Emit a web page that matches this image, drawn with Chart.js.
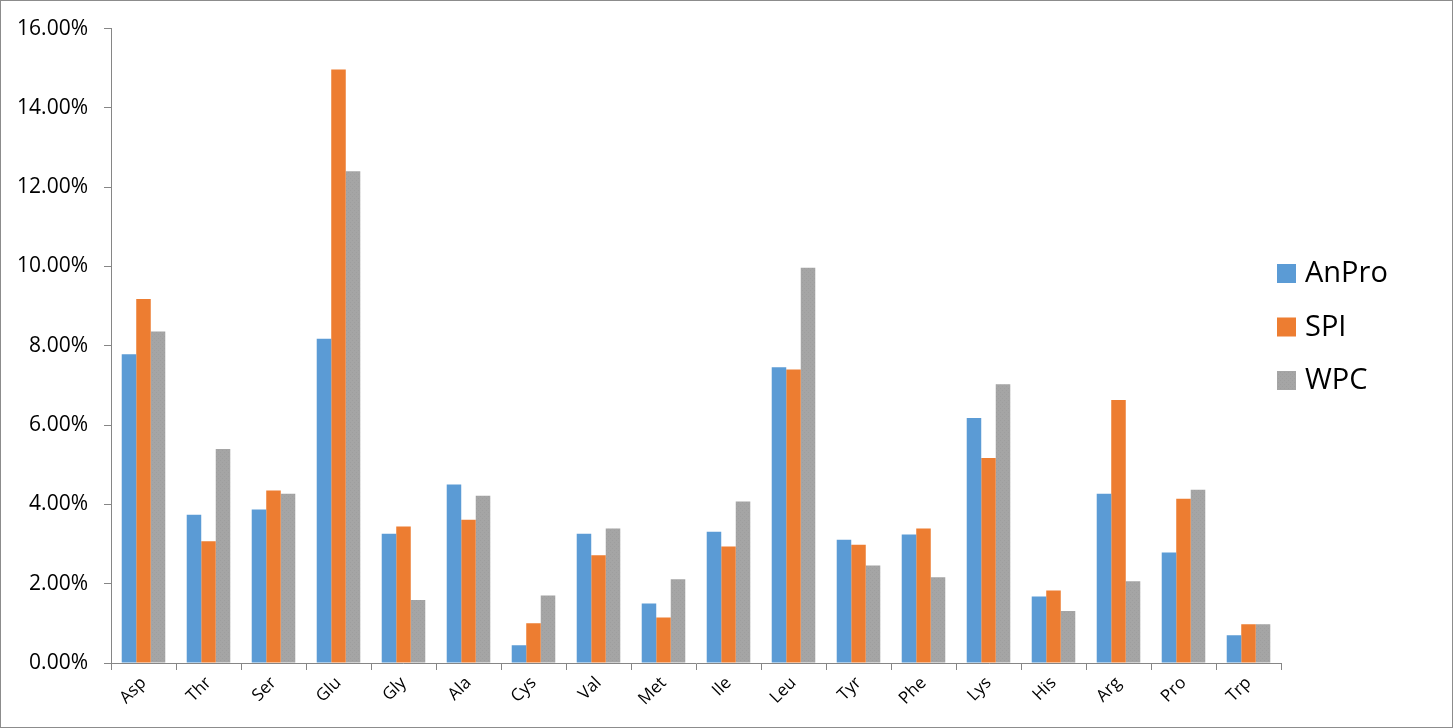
<!DOCTYPE html>
<html>
<head>
<meta charset="utf-8">
<script src="https://cdn.jsdelivr.net/npm/chart.js@4.4.1/dist/chart.umd.min.js"></script>
<style>
  html, body { margin: 0; padding: 0; background: #fff; }
  #wrap { width: 1453px; height: 728px; position: relative; }
</style>
</head>
<body>
<div id="wrap"><canvas id="aminoChart" width="1453" height="728"></canvas></div>
<script>
// Amino acid composition (fraction of total)
const aminoAcids = ['Asp', 'Thr', 'Ser', 'Glu', 'Gly', 'Ala', 'Cys', 'Val', 'Met',
                    'Ile', 'Leu', 'Tyr', 'Phe', 'Lys', 'His', 'Arg', 'Pro', 'Trp'];

const anProValues = [0.0779, 0.0374, 0.0387, 0.0818, 0.0326, 0.0450, 0.0045, 0.0326, 0.0150,
                     0.0331, 0.0746, 0.0311, 0.0324, 0.0618, 0.0168, 0.0427, 0.0279, 0.0070];
const spiValues   = [0.0918, 0.0307, 0.0435, 0.1497, 0.0344, 0.0361, 0.0100, 0.0272, 0.0115,
                     0.0294, 0.0740, 0.0298, 0.0339, 0.0517, 0.0183, 0.0663, 0.0414, 0.0098];
const wpcValues   = [0.0836, 0.0540, 0.0427, 0.1240, 0.0159, 0.0422, 0.0170, 0.0339, 0.0211,
                     0.0407, 0.0997, 0.0246, 0.0216, 0.0703, 0.0131, 0.0206, 0.0437, 0.0098];

const seriesNames = ['AnPro', 'SPI', 'WPC'];
const yTicksMax = 0.16;
const yTicksStep = 0.02;

const FONT = '"Open Sans", "Liberation Sans", sans-serif';

// gray bars in the original have a fine dotted texture
function makeDotPattern() {
    const c = document.createElement('canvas');
    c.width = 4;
    c.height = 4;
    const g = c.getContext('2d');
    g.fillStyle = '#a5a5a5';
    g.fillRect(0, 0, 4, 4);
    g.fillStyle = '#9e9e9e';
    g.fillRect(0, 0, 1, 1);
    g.fillRect(2, 2, 1, 1);
    return g.createPattern(c, 'repeat');
}

const ctx = document.getElementById('aminoChart').getContext('2d');
const grayPattern = makeDotPattern();
const seriesColors = ['#5b9bd5', '#ed7d31', grayPattern];

// outer frame + legend drawn by hand (legend overlaps the plot's right edge)
const framePlugin = {
    id: 'frame',
    beforeDraw(chart) {
        const c = chart.ctx;
        c.save();
        c.fillStyle = '#fff';
        c.fillRect(0, 0, chart.width, chart.height);
        c.restore();
    },
    afterDraw(chart) {
        const c = chart.ctx;
        c.save();
        c.strokeStyle = '#8c8c8c';
        c.lineWidth = 1;
        c.strokeRect(0.5, 0.5, chart.width - 1, chart.height - 1);

        const x0 = chart.chartArea.right - 4;
        const y0 = 264;
        const gap = 53.5;
        c.font = '29px ' + FONT;
        c.textBaseline = 'middle';
        c.textAlign = 'left';
        chart.data.datasets.forEach((ds, i) => {
            const y = y0 + i * gap;
            c.fillStyle = ds.backgroundColor;
            c.fillRect(x0, y, 19, 19);
            c.fillStyle = '#000';
            c.fillText(ds.label, x0 + 28, y + 10);
        });
        c.restore();
    }
};

const valueSets = [anProValues, spiValues, wpcValues];

new Chart(ctx, {
    type: 'bar',
    data: {
        labels: aminoAcids,
        datasets: seriesNames.map((name, i) => ({
            label: name,
            data: valueSets[i],
            backgroundColor: seriesColors[i],
            borderWidth: 0,
            categoryPercentage: 0.67,
            barPercentage: 1.0
        }))
    },
    options: {
        responsive: false,
        animation: false,
        devicePixelRatio: 1,
        layout: { padding: { left: 0, right: 172, top: 25, bottom: 0 } },
        plugins: {
            legend: { display: false },
            tooltip: { enabled: false }
        },
        scales: {
            x: {
                offset: true,
                grid: {
                    offset: true,
                    drawOnChartArea: false,
                    drawTicks: true,
                    tickLength: 7,
                    color: '#868686'
                },
                border: { display: true, color: '#868686', width: 1 },
                ticks: {
                    color: '#000',
                    font: { family: FONT, size: 17 },
                    maxRotation: 45,
                    minRotation: 45,
                    autoSkip: false,
                    padding: 3
                },
                afterFit(scale) { scale.height = 65; }
            },
            y: {
                min: 0,
                max: yTicksMax,
                grid: {
                    drawOnChartArea: false,
                    drawTicks: true,
                    tickLength: 7,
                    color: '#868686'
                },
                border: { display: true, color: '#868686', width: 1 },
                ticks: {
                    stepSize: yTicksStep,
                    color: '#000',
                    font: { family: FONT, size: 21 },
                    padding: 16,
                    callback: v => (v * 100).toFixed(2) + '%'
                },
                afterFit(scale) { scale.width = 111; }
            }
        }
    },
    plugins: [framePlugin]
});
</script>
</body>
</html>
